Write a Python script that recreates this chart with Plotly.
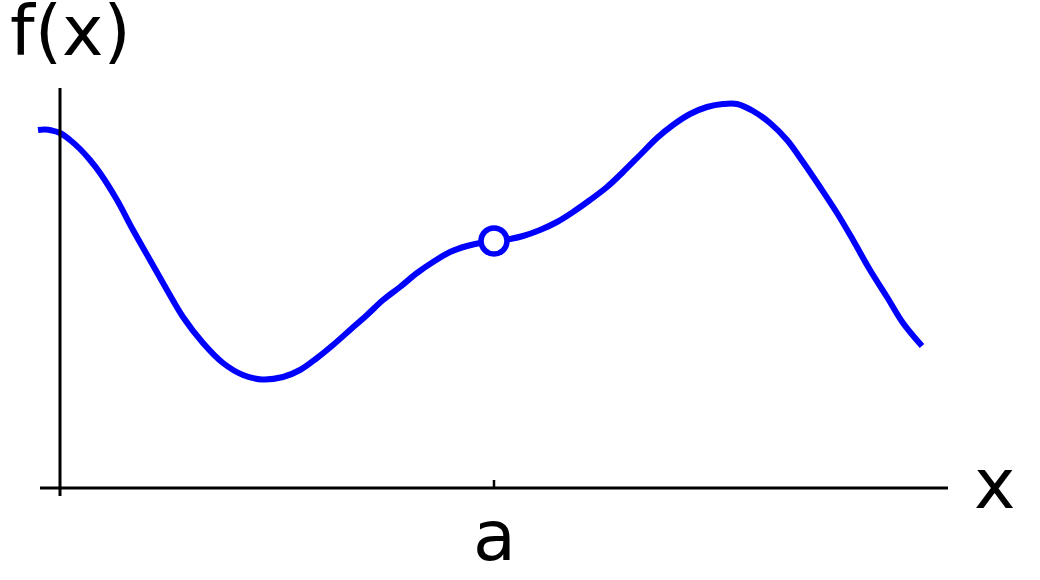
import plotly.graph_objects as go

# Curve samples (x measured from the y-axis, y measured from the x-axis)
curve_x = [-22, -15, -8, 0, 10, 20, 30, 40, 57, 73, 90, 107, 123, 143, 163, 183, 202,
           223, 240, 257, 273, 290, 307, 323, 340, 357, 373, 390, 407, 420, 434,
           450, 463, 480, 497, 513, 530, 547, 563, 580, 597, 613, 630, 647, 663, 677,
           693, 710, 727, 743, 760, 777, 793, 810, 827, 843, 862]
curve_y = [358, 358.5, 357.5, 355, 348, 339, 328, 315, 288, 258, 228, 198, 171, 145,
           125, 113, 108.5, 111, 118, 130, 143, 158, 173, 188, 201, 215, 226, 236,
           242, 245, 247, 249, 252, 258, 266, 276, 288, 301, 316, 333, 350, 363,
           374, 381, 384, 384, 377, 365, 348, 326, 301, 275, 248, 218, 191, 165, 142]

# Removed point
a_value = 434
f_at_a = 247

# Labels
x_label = "x"
y_label = "f(x)"
tick_label = "a"

fig = go.Figure()
fig.add_trace(go.Scatter(x=curve_x, y=curve_y, mode="lines",
                         line=dict(color="#0000FF", width=6, shape="spline", smoothing=1.0),
                         hoverinfo="skip", showlegend=False))
fig.add_trace(go.Scatter(x=[a_value], y=[f_at_a], mode="markers",
                         marker=dict(symbol="circle", size=26, color="white",
                                     line=dict(color="#0000FF", width=5.5)),
                         hoverinfo="skip", showlegend=False))

black = "#000000"
fig.add_shape(type="line", x0=0, x1=0, y0=400, y1=-8, line=dict(color=black, width=3))
fig.add_shape(type="line", x0=-20, x1=888, y0=0, y1=0, line=dict(color=black, width=3))
fig.add_shape(type="line", x0=a_value, x1=a_value, y0=0, y1=8, line=dict(color=black, width=2.5))

font = dict(family="DejaVu Sans", size=70, color=black)
fig.add_annotation(x=10, y=457, text=y_label, showarrow=False, font=font,
                   xanchor="center", yanchor="middle")
fig.add_annotation(x=934, y=4, text=x_label, showarrow=False, font=font,
                   xanchor="center", yanchor="middle")
fig.add_annotation(x=a_value, y=-48, text=tick_label, showarrow=False, font=font,
                   xanchor="center", yanchor="middle")

fig.update_layout(width=1040, height=580, margin=dict(l=0, r=0, t=0, b=0),
                  paper_bgcolor="white", plot_bgcolor="white",
                  xaxis=dict(range=[-60, 980], visible=False, fixedrange=True),
                  yaxis=dict(range=[-92, 488], visible=False, fixedrange=True))

fig.write_html("out.html", config={"displayModeBar": False},
               post_script="document.body.style.margin='0px';")
